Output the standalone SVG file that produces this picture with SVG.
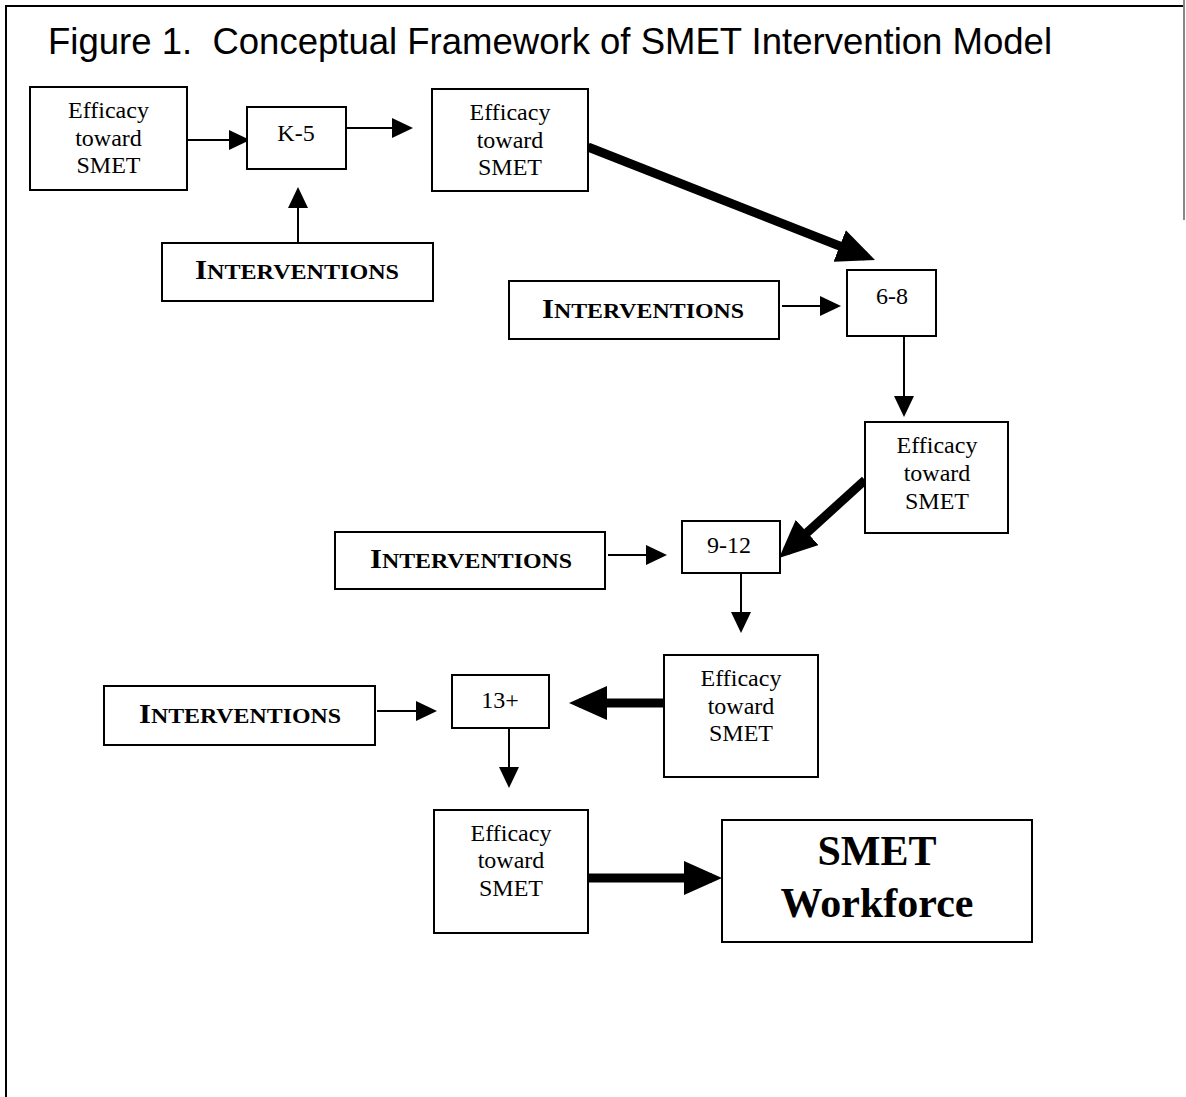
<svg xmlns="http://www.w3.org/2000/svg" width="1186" height="1097" viewBox="0 0 1186 1097">
  <style>
    .box { fill: #fff; stroke: #000; stroke-width: 2; }
    .t { font-family: "Liberation Serif", "Times New Roman", serif; font-size: 24px; fill: #000; text-anchor: middle; }
    .iv { font-family: "Liberation Serif", "Times New Roman", serif; font-weight: bold; fill: #000; text-anchor: middle; }
    .big { font-family: "Liberation Serif", "Times New Roman", serif; font-weight: bold; font-size: 42px; fill: #000; text-anchor: middle; }
    .title { font-family: "Liberation Sans", Arial, sans-serif; font-size: 37px; fill: #000; white-space: pre; }
    .thin { stroke: #000; stroke-width: 2; fill: none; marker-end: url(#ah); }
    .thick { stroke: #000; stroke-width: 9; fill: none; marker-end: url(#ahBig); }
  </style>
  <defs>
    <marker id="ah" markerUnits="userSpaceOnUse" viewBox="0 0 21 20" markerWidth="21" markerHeight="20" refX="11" refY="10" orient="auto">
      <path d="M0,0 L21,10 L0,20 z" fill="#000"/>
    </marker>
    <marker id="ahBig" markerUnits="userSpaceOnUse" viewBox="0 0 38 34" markerWidth="38" markerHeight="34" refX="28" refY="17" orient="auto">
      <path d="M0,0 L38,17 L0,34 z" fill="#000"/>
    </marker>
    <marker id="ahHuge" markerUnits="userSpaceOnUse" viewBox="0 0 44 38" markerWidth="44" markerHeight="38" refX="34" refY="19" orient="auto">
      <path d="M0,0 L44,19 L0,38 z" fill="#000"/>
    </marker>
  </defs>

  <!-- page frame -->
  <path d="M6,1097 V6 H1184" fill="none" stroke="#000" stroke-width="2"/>
  <line x1="1184" y1="0" x2="1184" y2="220" stroke="#888" stroke-width="2"/>

  <text class="title" x="48" y="54" textLength="1004" lengthAdjust="spacingAndGlyphs" xml:space="preserve">Figure 1.  Conceptual Framework of SMET Intervention Model</text>

  <g id="connectors">
    <line class="thin" x1="187" y1="140" x2="240" y2="140"/>
    <line class="thin" x1="336" y1="128" x2="403" y2="128"/>
    <line class="thin" x1="298" y1="243" x2="298" y2="197"/>
    <line class="thin" x1="782" y1="306" x2="831" y2="306"/>
    <line class="thin" x1="904" y1="336" x2="904" y2="407"/>
    <line class="thin" x1="608" y1="555" x2="657" y2="555"/>
    <line class="thin" x1="741" y1="573" x2="741" y2="623"/>
    <line class="thin" x1="377" y1="711" x2="427" y2="711"/>
    <line class="thin" x1="509" y1="728" x2="509" y2="778"/>
    <line class="thick" x1="588" y1="147" x2="865.7" y2="256.3" stroke-width="8" marker-end="url(#ahHuge)"/>
    <line class="thick" x1="865" y1="480" x2="786.4" y2="551.3" stroke-width="8"/>
    <line class="thick" x1="664" y1="703" x2="579" y2="703"/>
    <line class="thick" x1="588" y1="878" x2="712" y2="878" stroke-width="10"/>
  </g>

  <g id="eff-1">
    <rect class="box" x="30" y="87" width="157" height="103"/>
    <text class="t" x="108.5" y="118">Efficacy</text>
    <text class="t" x="108.5" y="146">toward</text>
    <text class="t" x="108.5" y="173">SMET</text>
  </g>
  <g id="grade-k5">
    <rect class="box" x="247" y="107" width="99" height="62"/>
    <text class="t" x="296" y="141">K-5</text>
  </g>
  <g id="eff-2">
    <rect class="box" x="432" y="89" width="156" height="102"/>
    <text class="t" x="510" y="120">Efficacy</text>
    <text class="t" x="510" y="148">toward</text>
    <text class="t" x="510" y="175">SMET</text>
  </g>
  <g id="int-1">
    <rect class="box" x="162" y="243" width="271" height="58"/>
    <text class="iv" x="297" y="279" textLength="204" lengthAdjust="spacingAndGlyphs"><tspan font-size="27">I</tspan><tspan font-size="21">NTERVENTIONS</tspan></text>
  </g>
  <g id="grade-68">
    <rect class="box" x="847" y="270" width="89" height="66"/>
    <text class="t" x="892" y="304">6-8</text>
  </g>
  <g id="int-2">
    <rect class="box" x="509" y="281" width="270" height="58"/>
    <text class="iv" x="643" y="318" textLength="202" lengthAdjust="spacingAndGlyphs"><tspan font-size="27">I</tspan><tspan font-size="21">NTERVENTIONS</tspan></text>
  </g>
  <g id="eff-3">
    <rect class="box" x="865" y="422" width="143" height="111"/>
    <text class="t" x="937" y="453">Efficacy</text>
    <text class="t" x="937" y="481">toward</text>
    <text class="t" x="937" y="509">SMET</text>
  </g>
  <g id="int-3">
    <rect class="box" x="335" y="532" width="270" height="57"/>
    <text class="iv" x="471" y="568" textLength="202" lengthAdjust="spacingAndGlyphs"><tspan font-size="27">I</tspan><tspan font-size="21">NTERVENTIONS</tspan></text>
  </g>
  <g id="grade-912">
    <rect class="box" x="682" y="521" width="98" height="52"/>
    <text class="t" x="729" y="553">9-12</text>
  </g>
  <g id="eff-4">
    <rect class="box" x="664" y="655" width="154" height="122"/>
    <text class="t" x="741" y="686">Efficacy</text>
    <text class="t" x="741" y="714">toward</text>
    <text class="t" x="741" y="741">SMET</text>
  </g>
  <g id="int-4">
    <rect class="box" x="104" y="686" width="271" height="59"/>
    <text class="iv" x="240" y="723" textLength="202" lengthAdjust="spacingAndGlyphs"><tspan font-size="27">I</tspan><tspan font-size="21">NTERVENTIONS</tspan></text>
  </g>
  <g id="grade-13">
    <rect class="box" x="452" y="675" width="97" height="53"/>
    <text class="t" x="500" y="708">13+</text>
  </g>
  <g id="eff-5">
    <rect class="box" x="434" y="810" width="154" height="123"/>
    <text class="t" x="511" y="841">Efficacy</text>
    <text class="t" x="511" y="868">toward</text>
    <text class="t" x="511" y="896">SMET</text>
  </g>
  <g id="workforce">
    <rect class="box" x="722" y="820" width="310" height="122"/>
    <text class="big" x="877" y="865">SMET</text>
    <text class="big" x="877" y="917">Workforce</text>
  </g>
</svg>
